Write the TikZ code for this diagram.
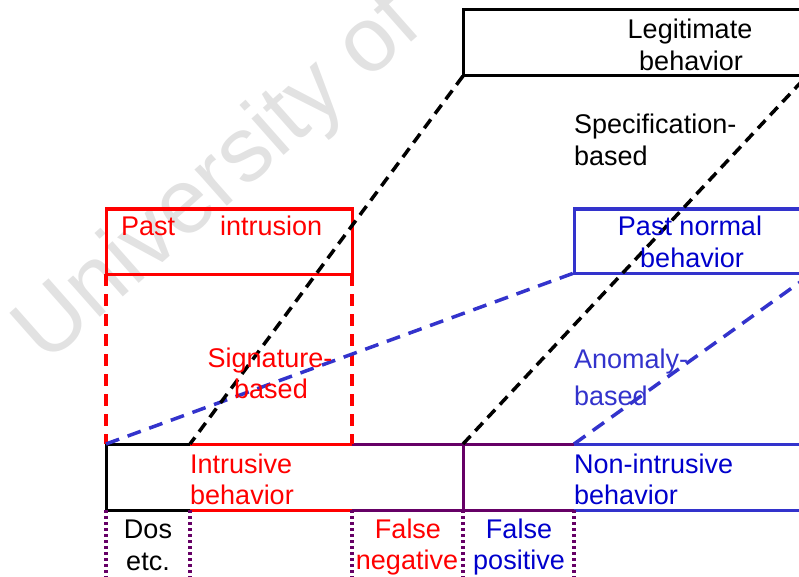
\documentclass[tikz,border=0pt]{standalone}
\usepackage{fontspec}
\setmainfont{Liberation Sans}
\definecolor{ired}{HTML}{FF0000}
\definecolor{nblue}{HTML}{3333CC}
\definecolor{tblue}{HTML}{0000CC}
\definecolor{pviolet}{HTML}{660066}
\definecolor{wmgray}{HTML}{E2E2E2}
\begin{document}
\begin{tikzpicture}[x=1pt,y=-1pt,
  lbl/.style={inner sep=0pt, font=\fontsize{27}{32}\selectfont},
  solidline/.style={line width=3pt},
  dashline/.style={line width=3.5pt, dash pattern=on 11pt off 7pt},
  dotline/.style={line width=3.5pt, dash pattern=on 3pt off 3pt, draw=pviolet},
]
\useasboundingbox (0,0) rectangle (799,577);
\clip (0,0) rectangle (799,577);

% watermark
\node[rotate=41.5, anchor=base west, inner sep=0pt, text=wmgray,
      font=\fontsize{92}{92}\selectfont] (wm) at (46,366) {University of};

% corner points
\coordinate (lgTL) at (463,10);  \coordinate (lgBL) at (463,76);
\coordinate (lgTR) at (803,10);  \coordinate (lgBR) at (803,76);
\coordinate (piTL) at (106,209); \coordinate (piBR) at (352,274);
\coordinate (piBL) at (106,274);
\coordinate (pnTL) at (574,209); \coordinate (pnBL) at (574,273);
\coordinate (pnTR) at (803,209); \coordinate (pnBR) at (803,273);
\coordinate (specEnd) at (803,80);
\coordinate (anomEnd) at (803,280);
% bottom bar: top edge
\coordinate (tA) at (106,444); \coordinate (tB) at (190,444);
\coordinate (tC) at (352,444); \coordinate (tD) at (463,444);
\coordinate (tE) at (574,444); \coordinate (tF) at (803,444);
% bottom bar: lower edge
\coordinate (bA) at (106,510); \coordinate (bB) at (190,510);
\coordinate (bC) at (352,510); \coordinate (bD) at (463,510);
\coordinate (bE) at (574,510); \coordinate (bF) at (803,510);
% dotted dividers: lower ends
\coordinate (dA) at (106,580); \coordinate (dB) at (190,580);
\coordinate (dC) at (352,580); \coordinate (dD) at (463,580);
\coordinate (dE) at (574,580);

% boxes
\draw[solidline, black] (lgTR) -- (lgTL) -- (lgBL) -- (lgBR);
\draw[solidline, ired] (piTL) rectangle (piBR);
\draw[solidline, nblue] (pnTR) -- (pnTL) -- (pnBL) -- (pnBR);

% bottom bar segments
\draw[solidline, black] (tB) -- (tA) -- (bA) -- (bB);
\draw[solidline, ired] (tB) -- (tC);
\draw[solidline, ired] (bB) -- (bC);
\draw[solidline, pviolet] (tC) -- (tE);
\draw[solidline, pviolet] (bC) -- (bE);
\draw[solidline, pviolet] (tD) -- (bD);
\draw[solidline, nblue] (tE) -- (tF);
\draw[solidline, nblue] (bE) -- (bF);

% projection lines
\draw[line width=3.5pt, ired, dash pattern=on 12pt off 8pt] (piBL) -- (tA);
\draw[line width=3.5pt, ired, dash pattern=on 12pt off 8pt] (piBR) -- (tC);
\draw[dashline, nblue, dash pattern=on 14pt off 9pt] (tA) -- (pnBL);
\draw[dashline, nblue, dash pattern=on 14pt off 9pt] (tE) -- (anomEnd);
\draw[dashline, black] (lgBL) -- (tB);
\draw[dashline, black] (tD) -- (specEnd);

% dotted dividers
\draw[dotline] (bA) -- (dA);
\draw[dotline] (bB) -- (dB);
\draw[dotline] (bC) -- (dC);
\draw[dotline] (bD) -- (dD);
\draw[dotline] (bE) -- (dE);

% labels
\node[lbl, anchor=base] (lg1) at (690,39) {Legitimate};
\node[lbl, anchor=base] (lg2) at (691,71) {behavior};
\node[lbl, anchor=base west] (sp1) at (574,134) {Specification-};
\node[lbl, anchor=base west] (sp2) at (574,166) {based};
\node[lbl, anchor=base west, text=ired] (pi1) at (121,235) {Past\hspace{45pt}intrusion};
\node[lbl, anchor=base, text=tblue] (pn1) at (690,235) {Past normal};
\node[lbl, anchor=base, text=tblue] (pn2) at (692,267) {behavior};
\node[lbl, anchor=base, text=ired] (sg1) at (270,367) {Signature-};
\node[lbl, anchor=base, text=ired] (sg2) at (271,398) {based};
\node[lbl, anchor=base west, text=nblue] (an1) at (574,368) {Anomaly-};
\node[lbl, anchor=base west, text=nblue] (an2) at (574,405) {based};
\node[lbl, anchor=base west, text=ired] (in1) at (190,473) {Intrusive};
\node[lbl, anchor=base west, text=ired] (in2) at (190,504) {behavior};
\node[lbl, anchor=base west, text=tblue] (ni1) at (574,473) {Non-intrusive};
\node[lbl, anchor=base west, text=tblue] (ni2) at (574,504) {behavior};
\node[lbl, anchor=base] (ds1) at (148,538) {Dos};
\node[lbl, anchor=base] (ds2) at (148,570) {etc.};
\node[lbl, anchor=base, text=ired] (fn1) at (408,538) {False};
\node[lbl, anchor=base, text=ired] (fn2) at (407,569) {negative};
\node[lbl, anchor=base, text=tblue] (fp1) at (519,538) {False};
\node[lbl, anchor=base, text=tblue] (fp2) at (519,569) {positive};
\end{tikzpicture}
\end{document}
